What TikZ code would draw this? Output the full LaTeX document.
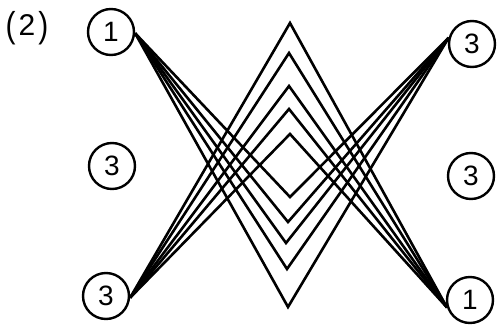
\documentclass[tikz,border=0pt]{standalone}
\usepackage{fontspec}
\usepackage{graphicx}
\setmainfont{Liberation Sans}
\newcommand{\numfont}{\fontsize{28pt}{30pt}\selectfont}
\newcommand{\labfont}{\fontsize{30pt}{32pt}\selectfont}
\newcommand{\tallparen}[1]{\raisebox{-1.5pt}{\scalebox{1}[1.2]{#1}}}
\begin{document}
\begin{tikzpicture}[x=1pt,y=-1pt,
  num/.style={circle,draw,line width=2.4pt,minimum size=46pt,inner sep=0pt,font=\numfont},
  wire/.style={line width=2.6pt,line join=miter,miter limit=20}]
\useasboundingbox (0,0) rectangle (498,324);
\node[font=\labfont,inner sep=0pt] (lab) at (27,28) {\tallparen{(}\kern3pt 2\kern3pt\tallparen{)}};
\node[num] (tl) at (111,32) {1};
\node[num] (ml) at (112,166) {3};
\node[num] (bl) at (106,296) {3};
\node[num] (tr) at (472,44) {3};
\node[num] (mr) at (471,176) {3};
\node[num] (br) at (470,300) {1};
% V apexes (TL -> V -> TR)
\coordinate (v1) at (290,197);
\coordinate (v2) at (288,222);
\coordinate (v3) at (286,243);
\coordinate (v4) at (287,269);
\coordinate (v5) at (288,307);
% Lambda apexes (BL -> A -> BR)
\coordinate (a1) at (290,134);
\coordinate (a2) at (289,109);
\coordinate (a3) at (289,86);
\coordinate (a4) at (289,53);
\coordinate (a5) at (290,23);
\foreach \i in {1,...,5}{
  \draw[wire] (tl.-3) -- (v\i) -- (tr.165);
  \draw[wire] (bl.-4) -- (a\i) -- (br.198);
}
\end{tikzpicture}
\end{document}
